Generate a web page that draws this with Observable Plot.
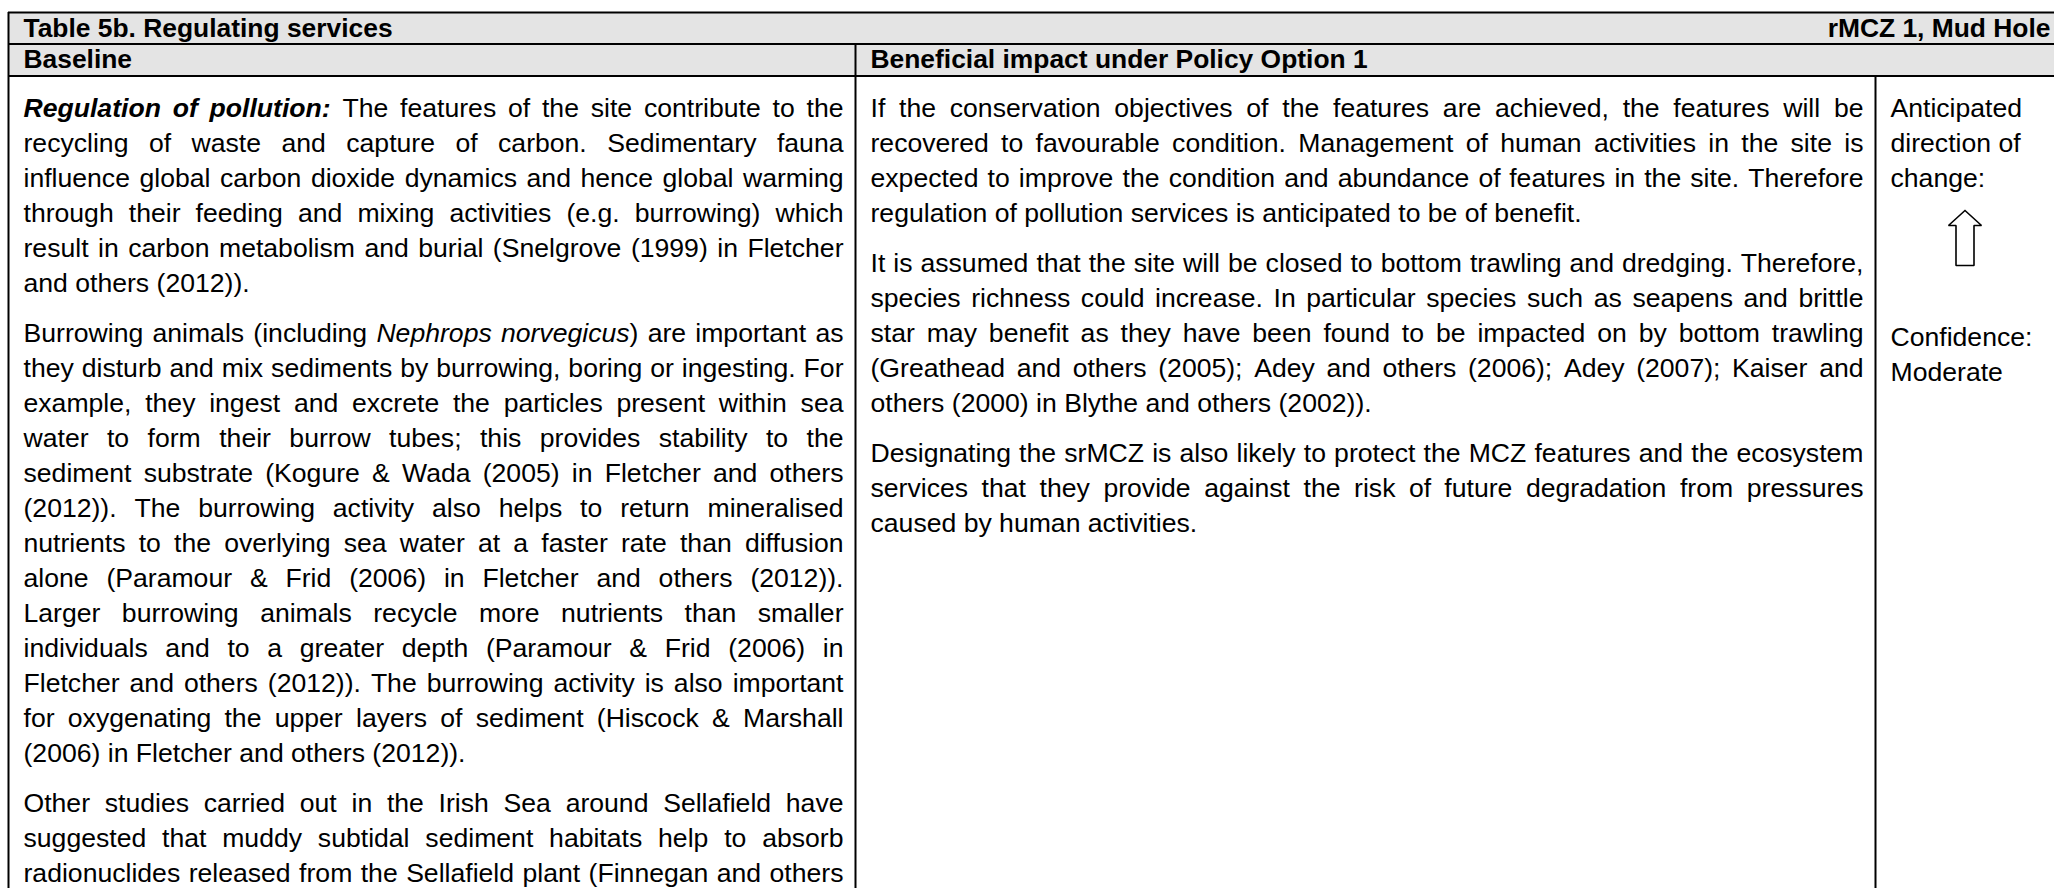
<!DOCTYPE html>
<html><head><meta charset="utf-8">
<script src="https://cdn.jsdelivr.net/npm/d3@7"></script>
<script src="https://cdn.jsdelivr.net/npm/@observablehq/plot@0.6"></script>
<style>
html,body{margin:0;padding:0;background:#fff;}
svg text{white-space:pre;}
</style>
</head><body>
<div id="chart"></div>
<script>
// ---------- content ----------
const titleText = "Table 5b. Regulating services";
const siteText = "rMCZ 1, Mud Hole";
const columnHeaders = ["Baseline", "Beneficial impact under Policy Option 1"];

const baselineParagraphs = [
  ["**Regulation of pollution:** The features of the site contribute to the",
   "recycling of waste and capture of carbon. Sedimentary fauna",
   "influence global carbon dioxide dynamics and hence global warming",
   "through their feeding and mixing activities (e.g. burrowing) which",
   "result in carbon metabolism and burial (Snelgrove (1999) in Fletcher",
   "and others (2012))."],
  ["Burrowing animals (including *Nephrops norvegicus*) are important as",
   "they disturb and mix sediments by burrowing, boring or ingesting. For",
   "example, they ingest and excrete the particles present within sea",
   "water to form their burrow tubes; this provides stability to the",
   "sediment substrate (Kogure & Wada (2005) in Fletcher and others",
   "(2012)). The burrowing activity also helps to return mineralised",
   "nutrients to the overlying sea water at a faster rate than diffusion",
   "alone (Paramour & Frid (2006) in Fletcher and others (2012)).",
   "Larger burrowing animals recycle more nutrients than smaller",
   "individuals and to a greater depth (Paramour & Frid (2006) in",
   "Fletcher and others (2012)).  The burrowing activity is also important",
   "for oxygenating the upper layers of sediment (Hiscock & Marshall",
   "(2006) in Fletcher and others (2012))."],
  ["Other studies carried out in the Irish Sea around Sellafield have",
   "suggested that muddy subtidal sediment habitats help to absorb",
   "radionuclides released from the Sellafield plant (Finnegan and others"]
];
const baselineContinues = true; // last paragraph runs past the visible area

const impactParagraphs = [
  ["If the conservation objectives of the features are achieved, the features will be",
   "recovered to favourable condition. Management of human activities in the site is",
   "expected to improve the condition and abundance of features in the site. Therefore",
   "regulation of pollution services is anticipated to be of benefit."],
  ["It is assumed that the site will be closed to bottom trawling and dredging. Therefore,",
   "species richness could increase. In particular species such as seapens and brittle",
   "star may benefit as they have been found to be impacted on by bottom trawling",
   "(Greathead and others (2005); Adey and others (2006); Adey (2007); Kaiser and",
   "others (2000) in Blythe and others (2002))."],
  ["Designating the srMCZ is also likely to protect the MCZ features and the ecosystem",
   "services that they provide against the risk of future degradation from pressures",
   "caused by human activities."]
];

const directionLines = ["Anticipated", "direction of", "change:"];
const directionSymbol = ["up"];
const confidenceLines = ["Confidence:", "Moderate"];

// ---------- layout ----------
const W = 2054, H = 888;
const L = {left: 8, top: 12, row1: 43.5, row2: 75.5, div1: 855, div2: 1875, right: 2054,
           padL: 15, padR: 12, lineH: 35, paraGap: 15, firstLine: 108, font: 26.6, headFont: 26.4,
           arrowTop: 210, confidenceSlot: 6, confidenceShift: 4};
const cols = [{x1: L.left, x2: L.div1}, {x1: L.div1, x2: L.div2}, {x1: L.div2, x2: L.right}];
const FONT = "'Liberation Sans', Arial, Helvetica, sans-serif";

function layoutParas(paras, c, continues) {
  const out = []; let i = 0;
  paras.forEach((p, pi) => p.forEach((t, li) => {
    const last = li === p.length - 1;
    out.push({text: t, x: cols[c].x1 + L.padL,
      y: L.firstLine + i * L.lineH + pi * L.paraGap,
      justify: !last || (continues && pi === paras.length - 1),
      width: cols[c].x2 - cols[c].x1 - L.padL - L.padR});
    i++;
  }));
  return out;
}
const body = [...layoutParas(baselineParagraphs, 0, baselineContinues), ...layoutParas(impactParagraphs, 1, false)];
const justified = body.filter(d => d.justify);
const ragged = body.filter(d => !d.justify);

const rightText = [
  ...directionLines.map((t, i) => ({text: t, x: cols[2].x1 + L.padL, y: L.firstLine + i * L.lineH})),
  ...confidenceLines.map((t, i) => ({text: t, x: cols[2].x1 + L.padL,
      y: L.firstLine + (L.confidenceSlot + i) * L.lineH + L.paraGap + L.confidenceShift}))
];

const headerStart = [
  {text: titleText, x: L.left + L.padL, y: (L.top + L.row1) / 2},
  {text: columnHeaders[0], x: cols[0].x1 + L.padL, y: (L.row1 + L.row2) / 2},
  {text: columnHeaders[1], x: cols[1].x1 + L.padL, y: (L.row1 + L.row2) / 2}
];
const headerEnd = [{text: siteText, x: L.right - 4, y: (L.top + L.row1) / 2}];

const bands = [{y1: L.top, y2: L.row1}, {y1: L.row1, y2: L.row2}];
const hLines = [L.top, L.row1, L.row2].map(y => ({y, x1: L.left, x2: L.right}));
const vLines = [{x: L.left, y1: L.top, y2: H}, {x: L.div1, y1: L.row1, y2: H}, {x: L.div2, y1: L.row2, y2: H}];

// arrow glyph outline (head half-width, shaft half-width, head height, total height)
const arrowCx = (cols[2].x1 + cols[2].x2) / 2;
const arrowGlyph = [[0,0],[-16.5,15],[-9,15],[-9,55],[9,55],[9,15],[16.5,15],[0,0]];
const arrowPts = directionSymbol.flatMap(s => arrowGlyph.map(([dx, dy]) => ({x: arrowCx + dx, y: L.arrowTop + dy})));

const common = {x: "x", y: "y", text: "text", lineAnchor: "middle", fontSize: L.font, fontFamily: FONT, fill: "black"};
const svg = Plot.plot({
  width: W, height: H,
  margin: 0,
  x: {type: "identity", axis: null},
  y: {type: "identity", axis: null},
  style: {background: "white", fontFamily: FONT},
  marks: [
    Plot.rect(bands, {x1: L.left, x2: L.right, y1: "y1", y2: "y2", fill: "#e4e4e4"}),
    Plot.text(headerStart, {...common, textAnchor: "start", fontWeight: "bold", fontSize: L.headFont}),
    Plot.text(headerEnd, {...common, textAnchor: "end", fontWeight: "bold", fontSize: L.headFont}),
    Plot.text(justified, {...common, textAnchor: "start"}),
    Plot.text(ragged, {...common, textAnchor: "start"}),
    Plot.text(rightText, {...common, textAnchor: "start"}),
    Plot.line(arrowPts, {x: "x", y: "y", stroke: "black", strokeWidth: 1.6, fill: "white", strokeLinejoin: "miter"}),
    Plot.ruleY(hLines, {y: "y", x1: "x1", x2: "x2", stroke: "black", strokeWidth: 2}),
    Plot.ruleX(vLines, {x: "x", y1: "y1", y2: "y2", stroke: "black", strokeWidth: 2})
  ]
});
document.getElementById("chart").appendChild(svg);

const NS = "http://www.w3.org/2000/svg";
// parse **bold italic** and *italic* runs into segments
function runs(s) {
  return s.split(/(\*\*[^*]+\*\*|\*[^*]+\*)/).filter(p => p).map(p =>
    p.startsWith("**") ? {t: p.slice(2, -2), bold: true, italic: true}
    : p.startsWith("*") ? {t: p.slice(1, -1), italic: true}
    : {t: p});
}
function seg(r, parent) {
  const ts = document.createElementNS(NS, "tspan");
  ts.textContent = r.t;
  if (r.bold) ts.setAttribute("font-weight", "bold");
  if (r.italic) ts.setAttribute("font-style", "italic");
  parent.appendChild(ts);
  return ts;
}
const textGroups = svg.querySelectorAll('g[aria-label="text"]');

// rich text for non-justified lines
[textGroups[3], textGroups[4]].forEach(g => g && g.querySelectorAll("text").forEach(el => {
  const s = el.textContent;
  if (!s.includes("*")) return;
  const rs = runs(s);
  while (el.firstChild) el.removeChild(el.firstChild);
  rs.forEach(r => seg(r, el));
}));

// justified lines: one tspan per word, placed to fill the column width
textGroups[2].querySelectorAll("text").forEach((el, i) => {
  const d = justified[i];
  const words = [[]];
  runs(el.textContent).forEach(r => {
    r.t.split(/( +)/).forEach(piece => {
      if (!piece) return;
      if (/^ +$/.test(piece)) { if (words[words.length - 1].length) words.push([]); }
      else words[words.length - 1].push({...r, t: piece});
    });
  });
  if (!words[words.length - 1].length) words.pop();
  while (el.firstChild) el.removeChild(el.firstChild);
  const base = el.hasAttribute("x") ? parseFloat(el.getAttribute("x")) : 0;
  const wEls = words.map(w => {
    const outer = document.createElementNS(NS, "tspan");
    w.forEach(r => seg(r, outer));
    el.appendChild(outer);
    return outer;
  });
  const widths = wEls.map(t => t.getComputedTextLength());
  const total = widths.reduce((a, b) => a + b, 0);
  const gap = words.length > 1 ? (d.width - total) / (words.length - 1) : 0;
  let pos = base;
  wEls.forEach((t, k) => { t.setAttribute("x", pos); pos += widths[k] + gap; });
});
</script>
</body></html>
